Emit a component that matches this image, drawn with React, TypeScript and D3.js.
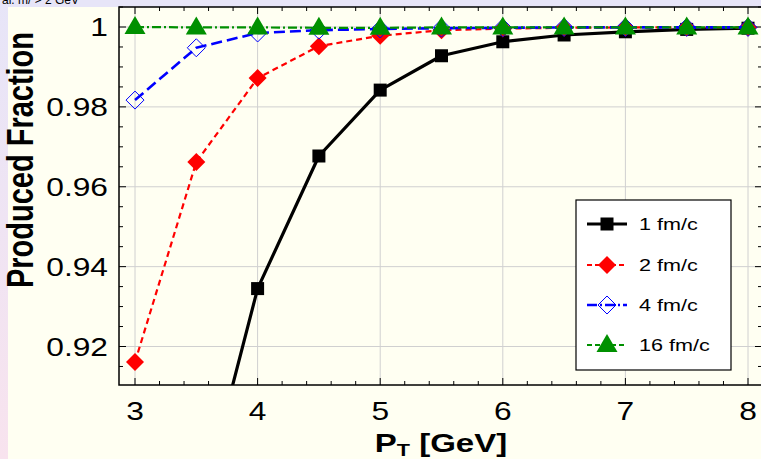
import React from "react";
import * as d3 from "d3";

const pt = [3, 3.5, 4, 4.5, 5, 5.5, 6, 6.5, 7, 7.5, 8];
const fm1 = [0.79, 0.8751, 0.9345, 0.9677, 0.9842, 0.9928, 0.9963, 0.998, 0.9988, 0.9994, 0.9997];
const fm2 = [0.9161, 0.9662, 0.9872, 0.9952, 0.9978, 0.9992, 0.9996, 0.9998, 0.9999, 0.9999, 0.9999];
const fm4 = [0.9817, 0.9948, 0.9985, 0.9992, 0.9995, 0.9997, 0.9998, 0.9999, 0.9999, 0.9999, 0.9999];
const fm16 = [1.0, 0.9999, 0.9999, 0.9998, 0.9998, 0.9999, 0.9999, 0.9999, 0.9999, 0.9999, 0.9999];
const seriesNames = ["1 fm/c", "2 fm/c", "4 fm/c", "16 fm/c"];
const xTicks = [3, 4, 5, 6, 7, 8];
const yTicks = [0.92, 0.94, 0.96, 0.98, 1];
const yTickLabels = ["0.92", "0.94", "0.96", "0.98", "1"];

const W = 761;
const H = 459;
const frame = { left: 119, right: 762, top: 7, bottom: 385 };
const SX = 1.27;

const x = d3.scaleLinear().domain([3, 8]).range([135, 748]);
const y = d3.scaleLinear().domain([0.92, 1]).range([346.5, 27]);

type Style = { color: string; width: number; dash: string; marker: string };
const styles: Style[] = [
  { color: "#000000", width: 3.2, dash: "none", marker: "square" },
  { color: "#ff0000", width: 2.2, dash: "6,4", marker: "diamond" },
  { color: "#0000ff", width: 2.6, dash: "11,5", marker: "odiamond" },
  { color: "#009000", width: 2.2, dash: "9,3,2,3", marker: "triangle" },
];
const seriesData = [fm1, fm2, fm4, fm16];

function Marker({ kind, cx, cy, color }: { kind: string; cx: number; cy: number; color: string }) {
  if (kind === "square") {
    return <rect x={cx - 6.5} y={cy - 6.5} width={13} height={13} fill={color} />;
  }
  if (kind === "diamond") {
    return <path d={`M${cx},${cy - 9}L${cx + 9},${cy}L${cx},${cy + 9}L${cx - 9},${cy}Z`} fill={color} />;
  }
  if (kind === "odiamond") {
    return (
      <path
        d={`M${cx},${cy - 9}L${cx + 9},${cy}L${cx},${cy + 9}L${cx - 9},${cy}Z`}
        fill="none"
        stroke={color}
        strokeWidth={1}
      />
    );
  }
  return <path d={`M${cx},${cy - 11}L${cx + 10.5},${cy + 7}L${cx - 10.5},${cy + 7}Z`} fill={color} />;
}

function SText({ x0, y0, anchor, size, bold, children }: any) {
  return (
    <text
      transform={`translate(${x0},${y0}) scale(${SX},1)`}
      textAnchor={anchor}
      fontSize={size}
      fontWeight={bold ? "bold" : "normal"}
      fontFamily="'Liberation Sans', Arial, Helvetica, sans-serif"
      fill="#000"
    >
      {children}
    </text>
  );
}

export default function App() {
  const line = d3
    .line<[number, number]>()
    .x((d) => x(d[0]))
    .y((d) => y(d[1]));

  const minorX = d3.range(2.8, 8.2001, 0.2).filter((v) => x(v) > frame.left && x(v) < frame.right);
  const minorY = d3.range(0.905, 1.0051, 0.005).filter((v) => y(v) > frame.top && y(v) < frame.bottom);

  const legendX = 576;
  const legendY = 200;
  const legendRows = [224, 265, 305, 345];

  return (
    <div style={{ position: "fixed", left: 0, top: 0, width: W, height: H }}>
      <svg width={W} height={H} style={{ display: "block" }}>
        <defs>
          <linearGradient id="leftStrip" x1="0" y1="0" x2="0" y2="1">
            <stop offset="0%" stopColor="#e7e5f8" />
            <stop offset="100%" stopColor="#f8e3ee" />
          </linearGradient>
          <clipPath id="plotClip">
            <rect x={frame.left} y={frame.top} width={frame.right - frame.left} height={frame.bottom - frame.top} />
          </clipPath>
        </defs>
        <rect x={0} y={0} width={W} height={H} fill="#fffff2" />
        <rect x={0} y={0} width={W} height={7} fill="#e7e5f8" />
        <rect x={0} y={0} width={8} height={H} fill="url(#leftStrip)" />
        <text x={2} y={4} fontSize={12} fontFamily="'Liberation Sans', Arial, sans-serif" fill="#000">
          al. m/ &gt; 2 GeV
        </text>

        {/* grid */}
        {xTicks.map((t) => (
          <line key={"gx" + t} x1={x(t)} x2={x(t)} y1={frame.top} y2={frame.bottom} stroke="#d0d0d0" strokeWidth={1} />
        ))}
        {yTicks.map((t) => (
          <line key={"gy" + t} x1={frame.left} x2={frame.right} y1={y(t)} y2={y(t)} stroke="#d0d0d0" strokeWidth={1} />
        ))}

        {/* ticks */}
        {minorX.map((t, i) => {
          const major = Math.abs(t - Math.round(t)) < 1e-6;
          const len = major ? 7 : 4;
          return (
            <g key={"mx" + i}>
              <line x1={x(t)} x2={x(t)} y1={frame.bottom} y2={frame.bottom - len} stroke="#000" strokeWidth={1} />
              <line x1={x(t)} x2={x(t)} y1={frame.top} y2={frame.top + len} stroke="#000" strokeWidth={1} />
            </g>
          );
        })}
        {minorY.map((t, i) => {
          const major = Math.abs(t * 50 - Math.round(t * 50)) < 1e-6;
          const len = major ? 7 : 4;
          return (
            <g key={"my" + i}>
              <line x1={frame.left} x2={frame.left + len} y1={y(t)} y2={y(t)} stroke="#000" strokeWidth={1} />
              <line x1={frame.right} x2={frame.right - len} y1={y(t)} y2={y(t)} stroke="#000" strokeWidth={1} />
            </g>
          );
        })}

        {/* series */}
        <g clipPath="url(#plotClip)">
          {seriesData.map((vals, si) => {
            const st = styles[si];
            const pts: [number, number][] = pt.map((p, i) => [p, vals[i]]);
            return (
              <g key={"s" + si}>
                <path
                  d={line(pts) || ""}
                  fill="none"
                  stroke={st.color}
                  strokeWidth={st.width}
                  strokeDasharray={st.dash}
                  strokeLinejoin="round"
                />
                {pts.map((d, i) => (
                  <Marker key={i} kind={st.marker} cx={x(d[0])} cy={y(d[1])} color={st.color} />
                ))}
              </g>
            );
          })}
        </g>

        {/* frame */}
        <rect
          x={frame.left}
          y={frame.top}
          width={frame.right - frame.left}
          height={frame.bottom - frame.top}
          fill="none"
          stroke="#000"
          strokeWidth={1.5}
        />

        {/* tick labels */}
        {xTicks.map((t) => (
          <SText key={"xl" + t} x0={x(t)} y0={420} anchor="middle" size={25}>
            {String(t)}
          </SText>
        ))}
        {yTicks.map((t, i) => (
          <SText key={"yl" + t} x0={108} y0={y(t) + 9} anchor="end" size={25}>
            {yTickLabels[i]}
          </SText>
        ))}

        {/* axis titles */}
        <text
          transform={`translate(33,160) scale(${SX},1) rotate(-90)`}
          textAnchor="middle"
          fontSize={29}
          fontWeight="bold"
          fontFamily="'Liberation Sans', Arial, sans-serif"
          fill="#000"
        >
          Produced Fraction
        </text>
        <text
          transform={`translate(441,452) scale(${SX},1)`}
          textAnchor="middle"
          fontSize={26}
          fontWeight="bold"
          fontFamily="'Liberation Sans', Arial, sans-serif"
          fill="#000"
        >
          P<tspan fontSize={17} dy={4}>T</tspan>
          <tspan dy={-4}> [GeV]</tspan>
        </text>

        {/* legend */}
        <rect x={legendX} y={legendY} width={155} height={170} fill="#ffffff" stroke="#000" strokeWidth={1.2} />
        {seriesNames.map((name, i) => {
          const st = styles[i];
          const ry = legendRows[i];
          return (
            <g key={"lg" + i}>
              <line
                x1={587}
                x2={627}
                y1={ry}
                y2={ry}
                stroke={st.color}
                strokeWidth={st.width}
                strokeDasharray={st.dash === "none" ? "none" : st.dash === "11,5" ? "10,3,2,3" : "5,3"}
              />
              <Marker kind={st.marker} cx={607} cy={ry} color={st.color} />
              <SText x0={639} y0={ry + 6} anchor="start" size={17}>
                {name}
              </SText>
            </g>
          );
        })}
      </svg>
    </div>
  );
}
